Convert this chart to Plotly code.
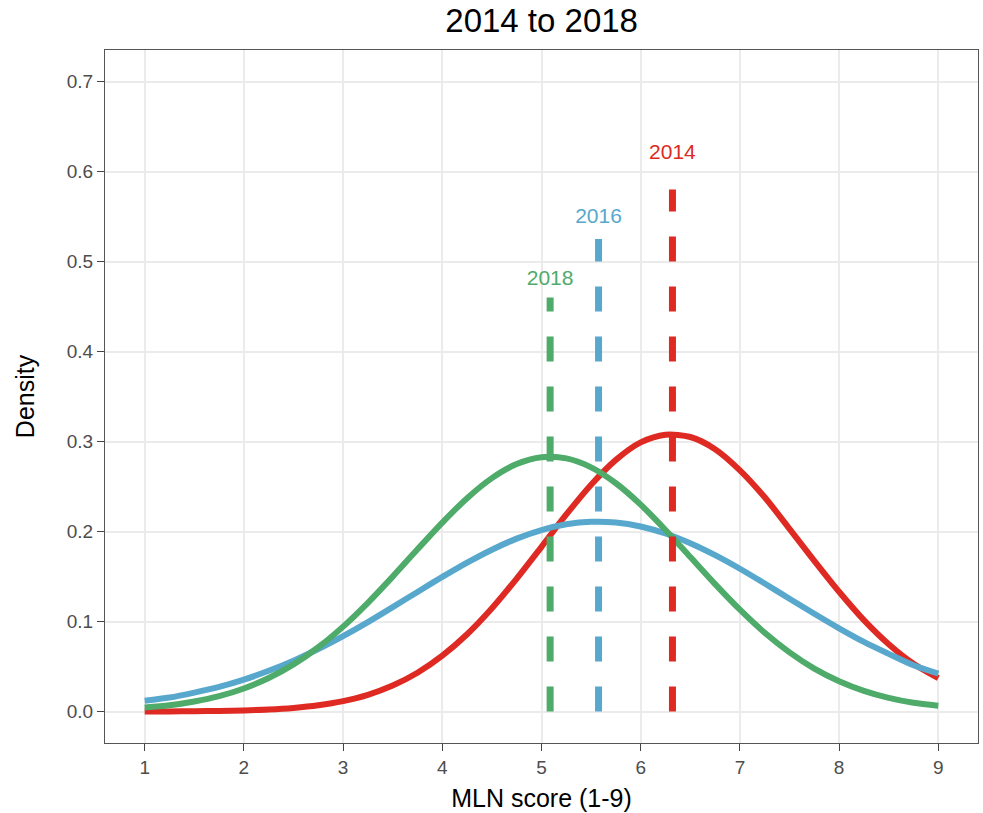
import plotly.graph_objects as go

# MLN score grid (1-9, quarter steps) and the density estimate of each survey year on it
score = [1.0, 1.25, 1.5, 1.75, 2.0, 2.25, 2.5, 2.75, 3.0, 3.25, 3.5, 3.75, 4.0, 4.25, 4.5, 4.75,
         5.0, 5.25, 5.5, 5.75, 6.0, 6.25, 6.5, 6.75, 7.0, 7.25, 7.5, 7.75, 8.0, 8.25, 8.5, 8.75, 9.0]
density_2014 = [0.0001, 0.0001, 0.0003, 0.0006, 0.0012, 0.0022, 0.0040, 0.0069, 0.0115, 0.0185,
                0.0288, 0.0430, 0.0620, 0.0858, 0.1147, 0.1477, 0.1830, 0.2189, 0.2520, 0.2796,
                0.2990, 0.3075, 0.3050, 0.2915, 0.2680, 0.2380, 0.2030, 0.1674, 0.1330, 0.1015,
                0.0747, 0.0530, 0.0370]
density_2016 = [0.0120, 0.0155, 0.0210, 0.0274, 0.0355, 0.0452, 0.0565, 0.0694, 0.0838, 0.0994,
                0.1160, 0.1328, 0.1495, 0.1654, 0.1798, 0.1921, 0.2016, 0.2080, 0.2108, 0.2100,
                0.2056, 0.1978, 0.1870, 0.1737, 0.1586, 0.1422, 0.1253, 0.1086, 0.0924, 0.0773,
                0.0640, 0.0513, 0.0420]
density_2018 = [0.0045, 0.0069, 0.0111, 0.0171, 0.0256, 0.0372, 0.0524, 0.0714, 0.0943, 0.1208,
                0.1499, 0.1802, 0.2099, 0.2370, 0.2593, 0.2749, 0.2824, 0.2812, 0.2713, 0.2536,
                0.2298, 0.2017, 0.1716, 0.1415, 0.1131, 0.0875, 0.0657, 0.0477, 0.0337, 0.0230,
                0.0152, 0.0097, 0.0065]

# Mean score per year, the height of its dashed marker and where its label sits
years = ["2014", "2016", "2018"]
mean_score = [6.32, 5.575, 5.087]
marker_top = [0.580, 0.525, 0.460]
label_y = [0.620, 0.549, 0.480]

colors = {"2014": "#DE2A22", "2016": "#58A8CD", "2018": "#4EAB6A"}
series = {"2014": density_2014, "2016": density_2016, "2018": density_2018}

FONT = "Liberation Sans, Arial, Helvetica, sans-serif"

fig = go.Figure()

for yr in years:
    fig.add_trace(go.Scatter(
        x=score, y=series[yr], mode="lines",
        line=dict(color=colors[yr], width=6, shape="spline", smoothing=0.8),
        showlegend=False, hoverinfo="skip",
    ))

for yr, m, top in zip(years, mean_score, marker_top):
    fig.add_trace(go.Scatter(
        x=[m, m], y=[0, top], mode="lines",
        line=dict(color=colors[yr], width=7, dash="25px,25px"),
        showlegend=False, hoverinfo="skip",
    ))

for yr, m, ly in zip(years, mean_score, label_y):
    fig.add_trace(go.Scatter(
        x=[m], y=[ly], mode="text", text=[yr],
        textfont=dict(color=colors[yr], size=21, family=FONT),
        textposition="middle center",
        showlegend=False, hoverinfo="skip",
    ))

axis_common = dict(
    showgrid=True, gridcolor="#EBEBEB", gridwidth=1.5,
    zeroline=False,
    showline=True, linecolor="#555555", linewidth=1.2, mirror=True,
    ticks="outside", ticklen=7, tickwidth=1.2, tickcolor="#444444",
    tickfont=dict(size=19, color="#4D4D4D", family=FONT),
)

fig.update_layout(
    width=983, height=813,
    margin=dict(l=105, r=5, t=50, b=70),
    paper_bgcolor="white", plot_bgcolor="white",
    title=dict(text="2014 to 2018", x=0.551, xanchor="center",
               y=1 - 20 / 813, yanchor="middle", yref="container",
               font=dict(size=33, color="black", family=FONT)),
    xaxis=dict(range=[0.6, 9.4], tickvals=list(range(1, 10)),
               title=dict(text="MLN score (1-9)", standoff=12,
                          font=dict(size=25, color="black", family=FONT)),
               **axis_common),
    yaxis=dict(range=[-0.035, 0.735], tickvals=[i / 10 for i in range(8)],
               tickformat=".1f",
               title=dict(text="Density", standoff=24,
                          font=dict(size=25, color="black", family=FONT)),
               **axis_common),
)

fig.write_html("out.html")
